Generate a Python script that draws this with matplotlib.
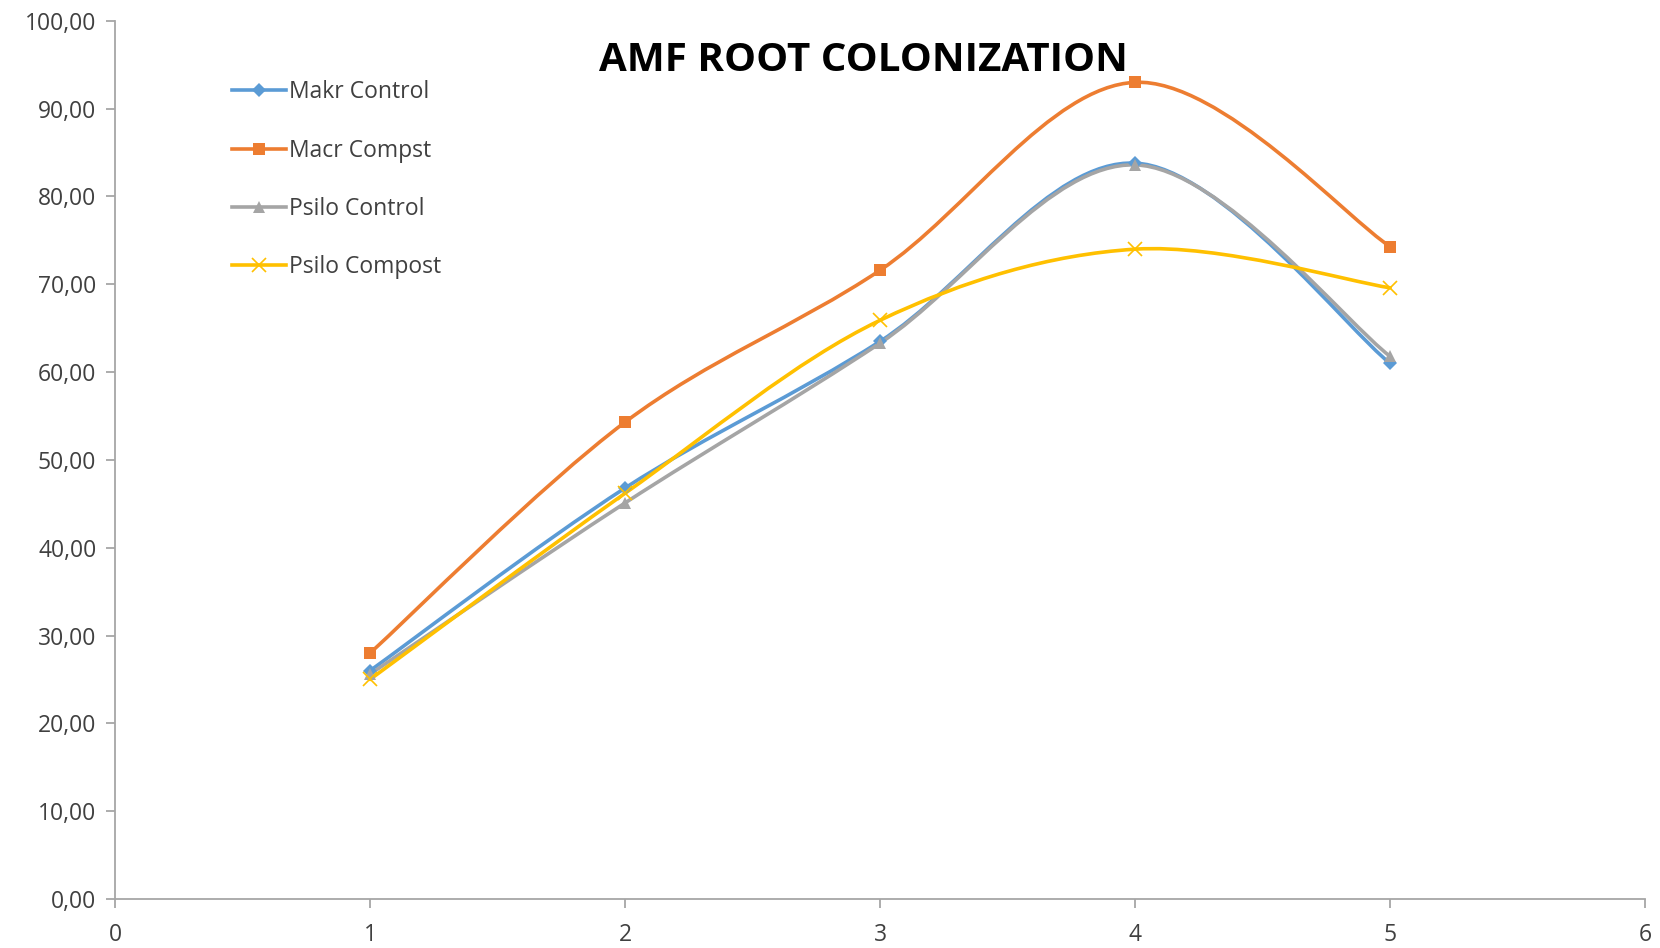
import matplotlib.pyplot as plt
from matplotlib.path import Path
from matplotlib.patches import PathPatch
from matplotlib.lines import Line2D
from matplotlib.ticker import FuncFormatter, MultipleLocator

plt.rcParams['font.family'] = ['Open Sans', 'DejaVu Sans']

x = [1, 2, 3, 4, 5]
makr_control = [26.0, 46.8, 63.5, 83.8, 61.0]
macr_compst = [28.0, 54.3, 71.6, 93.0, 74.3]
psilo_control = [25.6, 45.1, 63.3, 83.6, 61.8]
psilo_compost = [25.0, 46.2, 65.9, 74.0, 69.6]

series = [
    ("Makr Control", makr_control, "#5B9BD5", "D", 7),
    ("Macr Compst", macr_compst, "#ED7D31", "s", 8.5),
    ("Psilo Control", psilo_control, "#A5A5A5", "^", 9),
    ("Psilo Compost", psilo_compost, "#FFC000", "x", 9.5),
]


def smooth_path(xs, ys):
    # Bezier segments through the points, like spreadsheet "smoothed line"
    pts = list(zip(xs, ys))
    n = len(pts)
    verts = [pts[0]]
    codes = [Path.MOVETO]
    for i in range(n - 1):
        p0 = pts[i - 1] if i > 0 else pts[i]
        p1 = pts[i]
        p2 = pts[i + 1]
        p3 = pts[i + 2] if i + 2 < n else pts[i + 1]
        c1 = (p1[0] + (p2[0] - p0[0]) / 6, p1[1] + (p2[1] - p0[1]) / 6)
        c2 = (p2[0] - (p3[0] - p1[0]) / 6, p2[1] - (p3[1] - p1[1]) / 6)
        verts += [c1, c2, p2]
        codes += [Path.CURVE4] * 3
    return Path(verts, codes)


fig = plt.figure(figsize=(16.6, 9.48), dpi=100)
ax = fig.add_axes([0.0693, 0.0517, 0.9217, 0.9263])

handles = []
for name, vals, color, marker, ms in series:
    ax.add_patch(PathPatch(smooth_path(x, vals), facecolor="none",
                           edgecolor=color, lw=2.6, capstyle="round"))
    mew = 1.2 if marker == "x" else 0
    ax.plot(x, vals, linestyle="none", marker=marker, markersize=ms,
            color=color, markeredgewidth=mew)
    handles.append(Line2D([], [], color=color, lw=2.6, marker=marker,
                          markersize=ms, markeredgewidth=mew, label=name))

ax.set_xlim(0, 6)
ax.set_ylim(0, 100)
ax.xaxis.set_major_locator(MultipleLocator(1))
ax.yaxis.set_major_locator(MultipleLocator(10))
ax.yaxis.set_major_formatter(FuncFormatter(lambda v, p: f"{v:.2f}".replace(".", ",")))

for side in ["top", "right"]:
    ax.spines[side].set_visible(False)
for side in ["left", "bottom"]:
    ax.spines[side].set_color("#A6A6A6")
    ax.spines[side].set_linewidth(1.3)
ax.tick_params(axis="both", colors="#A6A6A6", length=6.5, width=1.3,
               labelcolor="#404040", labelsize=16.5)
ax.tick_params(axis="x", pad=11)
ax.tick_params(axis="y", pad=7)

fig.text(0.52, 0.9357, "AMF ROOT COLONIZATION", fontsize=29, fontweight="bold",
         ha="center", va="center", color="black")

ax.legend(handles=handles, loc="upper left", bbox_to_anchor=(0.1273, 0.937),
          bbox_transform=fig.transFigure, frameon=False, fontsize=16.5,
          handlelength=2.36, handletextpad=0.15, labelspacing=1.5,
          labelcolor="#404040")

fig.savefig("out.png", dpi=100)
